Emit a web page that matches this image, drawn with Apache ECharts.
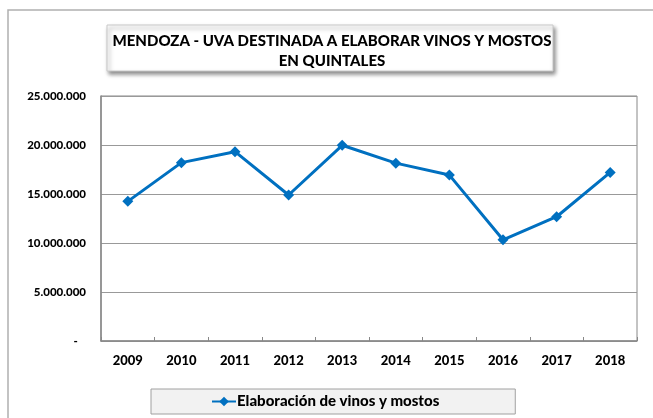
<!DOCTYPE html>
<html>
<head>
<meta charset="utf-8">
<script src="https://cdn.jsdelivr.net/npm/echarts@6/dist/echarts.min.js"></script>
<style>
  html, body { margin: 0; padding: 0; background: #fff; }
  #chart { width: 653px; height: 418px; }
</style>
</head>
<body>
<div id="chart"></div>
<script>
const years = ["2009", "2010", "2011", "2012", "2013", "2014", "2015", "2016", "2017", "2018"];
const elaboracion = [14250000, 18200000, 19320000, 14900000, 19970000, 18150000, 16930000, 10330000, 12680000, 17200000];
const seriesName = "Elaboración de vinos y mostos";
const titleLines = ["MENDOZA - UVA DESTINADA A ELABORAR VINOS Y MOSTOS", "EN QUINTALES"];

(() => {
  const font = "Lato, 'Open Sans', sans-serif";
  let myChart = echarts.init(document.querySelector("#chart"));
  let option = {
    animation: false,
    textStyle: { fontFamily: font },
    graphic: [
      {
        type: "rect",
        shape: { x: 8, y: 10, width: 700, height: 500 },
        style: { fill: "none", stroke: "#b0b0b0", lineWidth: 1.5 },
        silent: true,
      },
      {
        type: "rect",
        shape: { x: 107, y: 25, width: 446, height: 46 },
        style: {
          fill: "#fff",
          stroke: "#c8c8c8",
          lineWidth: 1,
          shadowBlur: 4,
          shadowOffsetX: 2,
          shadowOffsetY: 3,
          shadowColor: "rgba(0,0,0,0.45)",
        },
        silent: true,
      },
    ],
    title: {
      text: titleLines.join("\n"),
      left: 327,
      top: 26,
      textAlign: "center",
      textStyle: {
        fontFamily: font,
        fontSize: 15,
        fontWeight: 900,
        color: "#000",
        lineHeight: 20,
      },
    },
    legend: {
      left: 151,
      top: 389,
      padding: [5, 76, 5, 60],
      backgroundColor: "#f2f2f2",
      borderColor: "#a0a0a0",
      borderWidth: 1,
      itemWidth: 24,
      itemHeight: 12,
      itemGap: 0,
      textStyle: {
        fontFamily: font,
        fontSize: 15,
        fontWeight: 900,
        color: "#000",
        padding: [0, 0, 0, -4],
      },
      data: [seriesName],
    },
    grid: {
      left: 101,
      right: 16,
      top: 96,
      bottom: 77,
      show: true,
      borderColor: "#888",
      borderWidth: 1,
      backgroundColor: "transparent",
    },
    xAxis: {
      type: "category",
      data: years,
      boundaryGap: true,
      axisLine: { lineStyle: { color: "#888", width: 1.5 } },
      axisTick: { show: true, inside: true, length: 4, lineStyle: { color: "#888" } },
      axisLabel: {
        margin: 13,
        fontFamily: font,
        fontSize: 13,
        fontWeight: 900,
        color: "#000",
      },
    },
    yAxis: {
      type: "value",
      min: 0,
      max: 25000000,
      interval: 5000000,
      axisLine: { show: true, lineStyle: { color: "#888", width: 1.5 } },
      axisTick: { show: false },
      splitLine: { lineStyle: { color: "#999", width: 1 } },
      axisLabel: {
        margin: 15,
        fontFamily: font,
        fontSize: 11.5,
        fontWeight: 900,
        color: "#000",
        formatter: (v) => (v === 0 ? "-   " : v.toLocaleString("de-DE")),
      },
    },
    series: [
      {
        name: seriesName,
        type: "line",
        data: elaboracion,
        symbol: "diamond",
        symbolSize: 11,
        color: "#0070C0",
        lineStyle: { width: 3, color: "#0070C0" },
        itemStyle: { color: "#0070C0" },
      },
    ],
  };
  myChart.setOption(option);
  window.addEventListener("resize", () => {
    myChart.resize();
  });
})();
</script>
</body>
</html>
